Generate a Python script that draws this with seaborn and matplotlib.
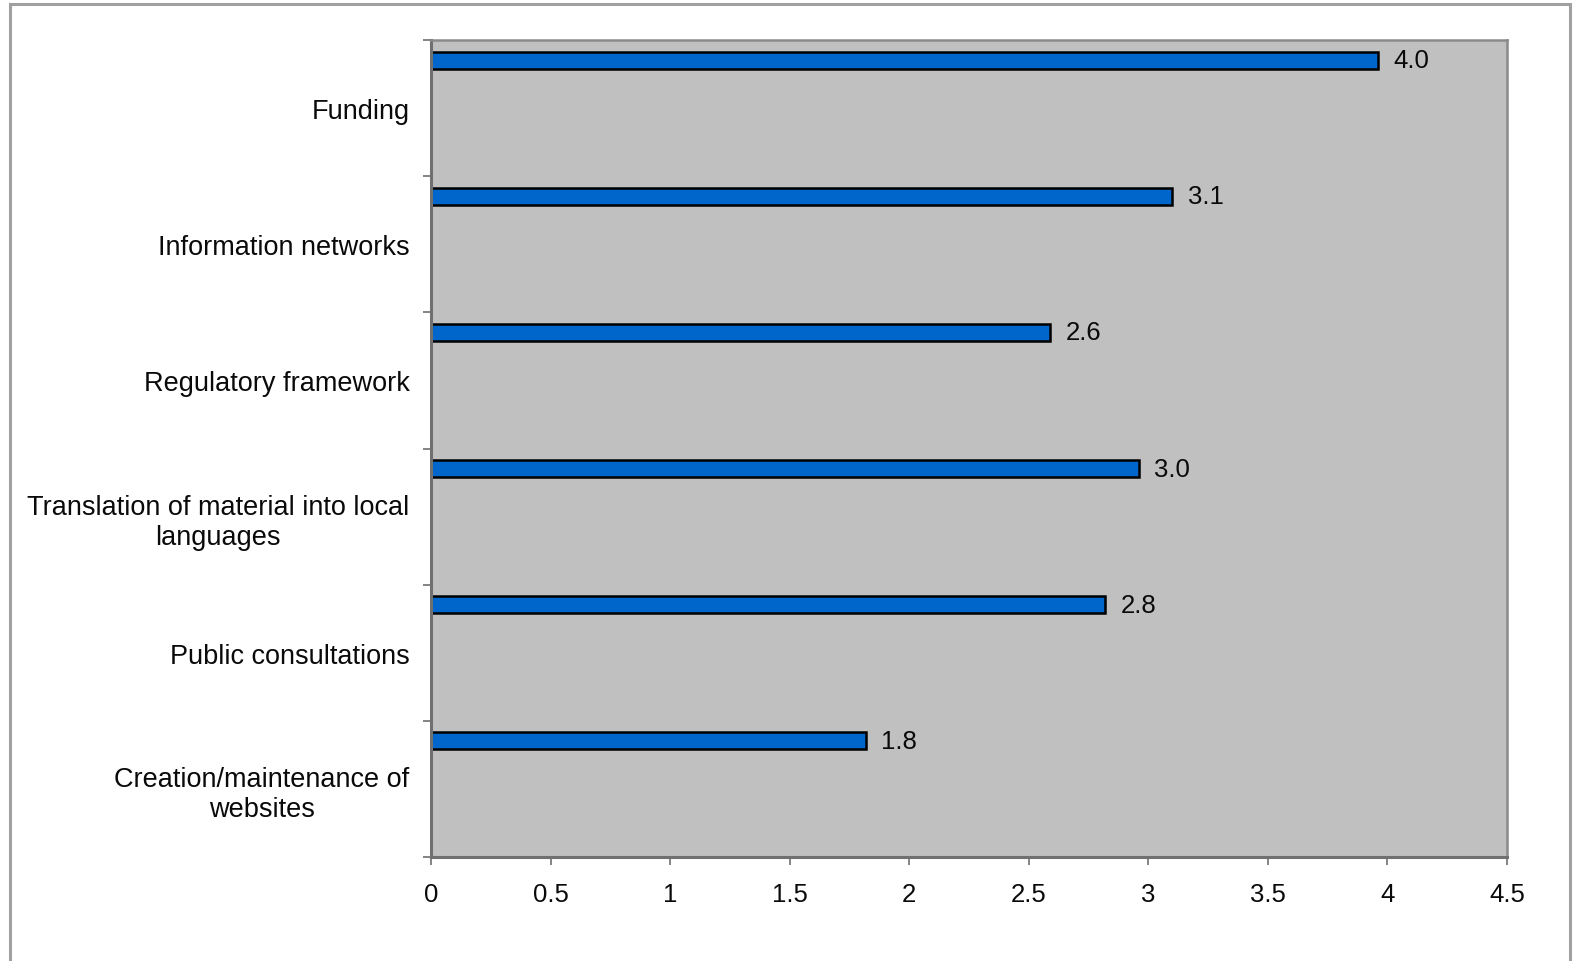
import numpy as np
import matplotlib
matplotlib.use("Agg")
import matplotlib.pyplot as plt
from matplotlib.patches import Rectangle
from matplotlib.ticker import FuncFormatter
import seaborn as sns

# Data
categories = [
    "Funding",
    "Information networks",
    "Regulatory framework",
    "Translation of material into local languages",
    "Public consultations",
    "Creation/maintenance of websites",
]
tick_labels = [
    "Funding",
    "Information networks",
    "Regulatory framework",
    "Translation of material into local\nlanguages",
    "Public consultations",
    "Creation/maintenance of\nwebsites",
]
values = [3.96, 3.10, 2.59, 2.96, 2.82, 1.82]

sns.set_theme(style="white")
plt.rcParams["font.family"] = ["Liberation Sans", "DejaVu Sans"]

fig = plt.figure(figsize=(15.73, 9.62), dpi=100)
ax = fig.add_axes([431 / 1573, 1 - 858 / 962, (1507 - 431) / 1573, (858 - 41) / 962])

# outer chart frame
fig.patches.append(Rectangle((10 / 1573, -0.02), 1560 / 1573, 1 - 5 / 962 + 0.02,
                             transform=fig.transFigure, fill=False,
                             edgecolor="#a0a0a0", linewidth=2.2, zorder=0))

sns.barplot(x=values, y=categories, orient="h", width=0.125,
            color="#0066cc", saturation=1, edgecolor="black",
            linewidth=1.8, ax=ax)

ax.set_facecolor("#c0c0c0")
ax.set_xlim(0, 4.5)
ax.set_xticks(np.arange(0, 4.51, 0.5))
ax.xaxis.set_major_formatter(FuncFormatter(lambda v, p: f"{v:g}"))

# bars sit in the upper part of each band
ax.set_ylim(5.853, -0.147)
ax.set_yticks(np.arange(6) + 0.353)
ax.set_yticklabels(tick_labels, ha="right", multialignment="center")
ax.set_yticks(np.arange(7) - 0.147, minor=True)
ax.tick_params(axis="y", which="major", length=0, pad=15.5, labelsize=19.5, labelcolor="#0a0a0a")
ax.tick_params(axis="y", which="minor", left=True, length=6, width=1.2, color="#707070")
ax.tick_params(axis="x", which="major", bottom=True, length=6, width=1.2, color="#707070",
               pad=12, labelsize=18.5, labelcolor="#0a0a0a")

ax.set_xlabel("")
ax.set_ylabel("")

for side in ["left", "bottom"]:
    ax.spines[side].set_color("#707070")
    ax.spines[side].set_linewidth(2.2)
for side in ["top", "right"]:
    ax.spines[side].set_color("#8a8a8a")
    ax.spines[side].set_linewidth(1.8)

for cont in ax.containers:
    ax.bar_label(cont, fmt="%.1f", padding=11, fontsize=18.5, color="#0a0a0a")

fig.savefig("out.png", dpi=100)
